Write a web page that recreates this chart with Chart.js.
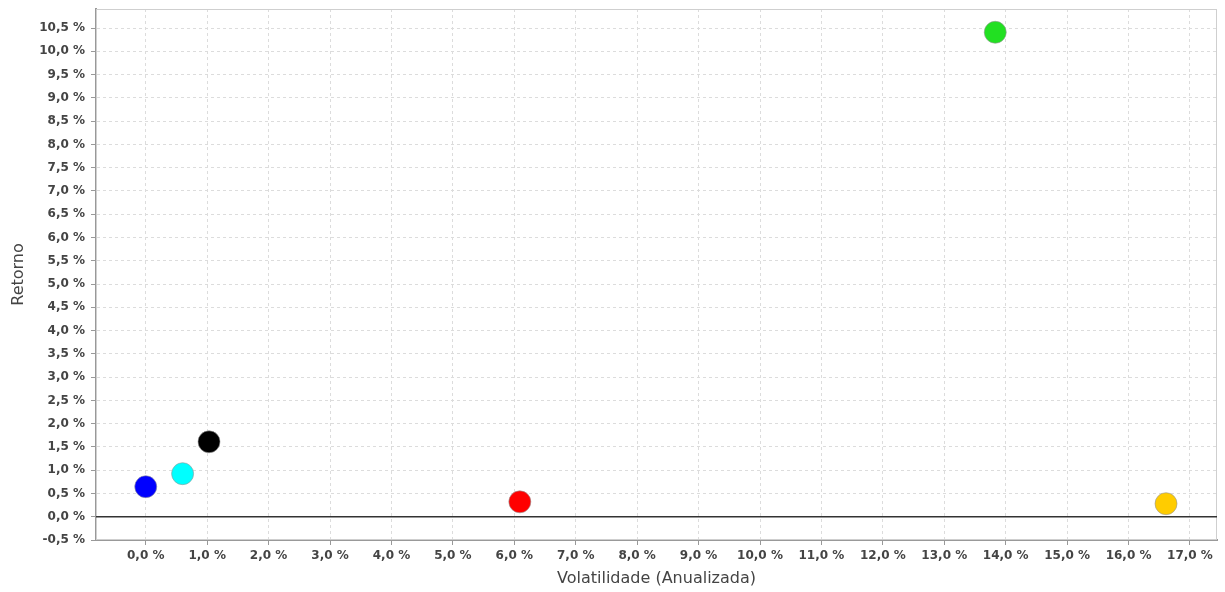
<!DOCTYPE html>
<html>
<head>
<meta charset="utf-8">
<script src="https://cdn.jsdelivr.net/npm/chart.js@4/dist/chart.umd.min.js"></script>
<style>
  html, body { margin: 0; padding: 0; background: #fff; }
  #wrap { width: 1225px; height: 592px; }
</style>
</head>
<body>
<div id="wrap"><canvas id="chart" width="1225" height="592"></canvas></div>
<script>
// valores em % (volatilidade anualizada x retorno)
const volatilidade = [0.0, 0.6, 1.03, 6.09, 13.83, 16.61];
const retorno = [0.645, 0.925, 1.61, 0.32, 10.41, 0.28];
const cores = ["#0000ff", "#00ffff", "#000000", "#ff0000", "#22e022", "#ffcc00"];

const xTicks = [0, 1, 2, 3, 4, 5, 6, 7, 8, 9, 10, 11, 12, 13, 14, 15, 16, 17];
const yTicks = [-0.5, 0, 0.5, 1, 1.5, 2, 2.5, 3, 3.5, 4, 4.5, 5, 5.5, 6, 6.5, 7, 7.5, 8, 8.5, 9, 9.5, 10, 10.5];

const fmt = (v) => v.toFixed(1).replace(".", ",") + " %";

const tickFont = { family: "DejaVu Sans", size: 12, weight: "bold" };
const titleFont = { family: "DejaVu Sans", size: 16 };

// linha do zero e moldura da área do gráfico
const extras = {
  id: "extras",
  afterDatasetsDraw(chart) {
    const { ctx, chartArea, scales } = chart;
    const y0 = scales.y.getPixelForValue(0);
    ctx.save();
    ctx.strokeStyle = "#333";
    ctx.lineWidth = 1.5;
    ctx.beginPath();
    ctx.moveTo(chartArea.left, y0);
    ctx.lineTo(chartArea.right, y0);
    ctx.stroke();
    ctx.restore();
  },
  beforeDatasetsDraw(chart) {
    const { ctx, chartArea } = chart;
    ctx.save();
    ctx.strokeStyle = "#cfcfcf";
    ctx.lineWidth = 1;
    ctx.strokeRect(chartArea.left + 0.5, chartArea.top + 0.5,
      chartArea.right - chartArea.left - 1, chartArea.bottom - chartArea.top - 1);
    ctx.restore();
  },
};

new Chart(document.getElementById("chart"), {
  type: "scatter",
  data: {
    datasets: volatilidade.map((x, i) => ({
      data: [{ x, y: retorno[i] }],
      backgroundColor: cores[i],
      borderColor: "rgba(150,150,150,0.6)",
      borderWidth: 1,
      pointRadius: 11,
      pointHoverRadius: 11,
    })),
  },
  options: {
    responsive: false,
    animation: false,
    layout: { autoPadding: false, padding: { top: 9, right: 8, left: 0, bottom: 0 } },
    plugins: { legend: { display: false }, tooltip: { enabled: false } },
    scales: {
      x: {
        type: "linear",
        min: -0.81,
        max: 17.44,
        afterBuildTicks: (scale) => { scale.ticks = xTicks.map((value) => ({ value })); },
        afterFit: (scale) => {
          scale.height = 52;
          scale.paddingLeft = 0;
          scale.paddingRight = 0;
        },
        ticks: { callback: fmt, font: tickFont, color: "#444", padding: 4, maxRotation: 0 },
        grid: { color: "#dcdcdc", tickColor: "#999", tickLength: 5, tickBorderDash: [] },
        border: { color: "#999", width: 2, dash: [3, 3] },
        title: { display: true, text: "Volatilidade (Anualizada)", font: titleFont, color: "#444", padding: { top: 4 } },
      },
      y: {
        type: "linear",
        min: -0.5,
        max: 10.91,
        afterBuildTicks: (scale) => { scale.ticks = yTicks.map((value) => ({ value })); },
        afterFit: (scale) => {
          scale.width = 96;
          scale.paddingTop = 0;
          scale.paddingBottom = 0;
        },
        ticks: { callback: fmt, font: tickFont, color: "#444", padding: 6 },
        grid: { color: "#dcdcdc", tickColor: "#999", tickLength: 5, tickBorderDash: [] },
        border: { color: "#999", width: 2, dash: [3, 3] },
        title: { display: true, text: "Retorno", font: titleFont, color: "#444", padding: { top: 9, bottom: 4 } },
      },
    },
  },
  plugins: [extras],
});
</script>
</body>
</html>
